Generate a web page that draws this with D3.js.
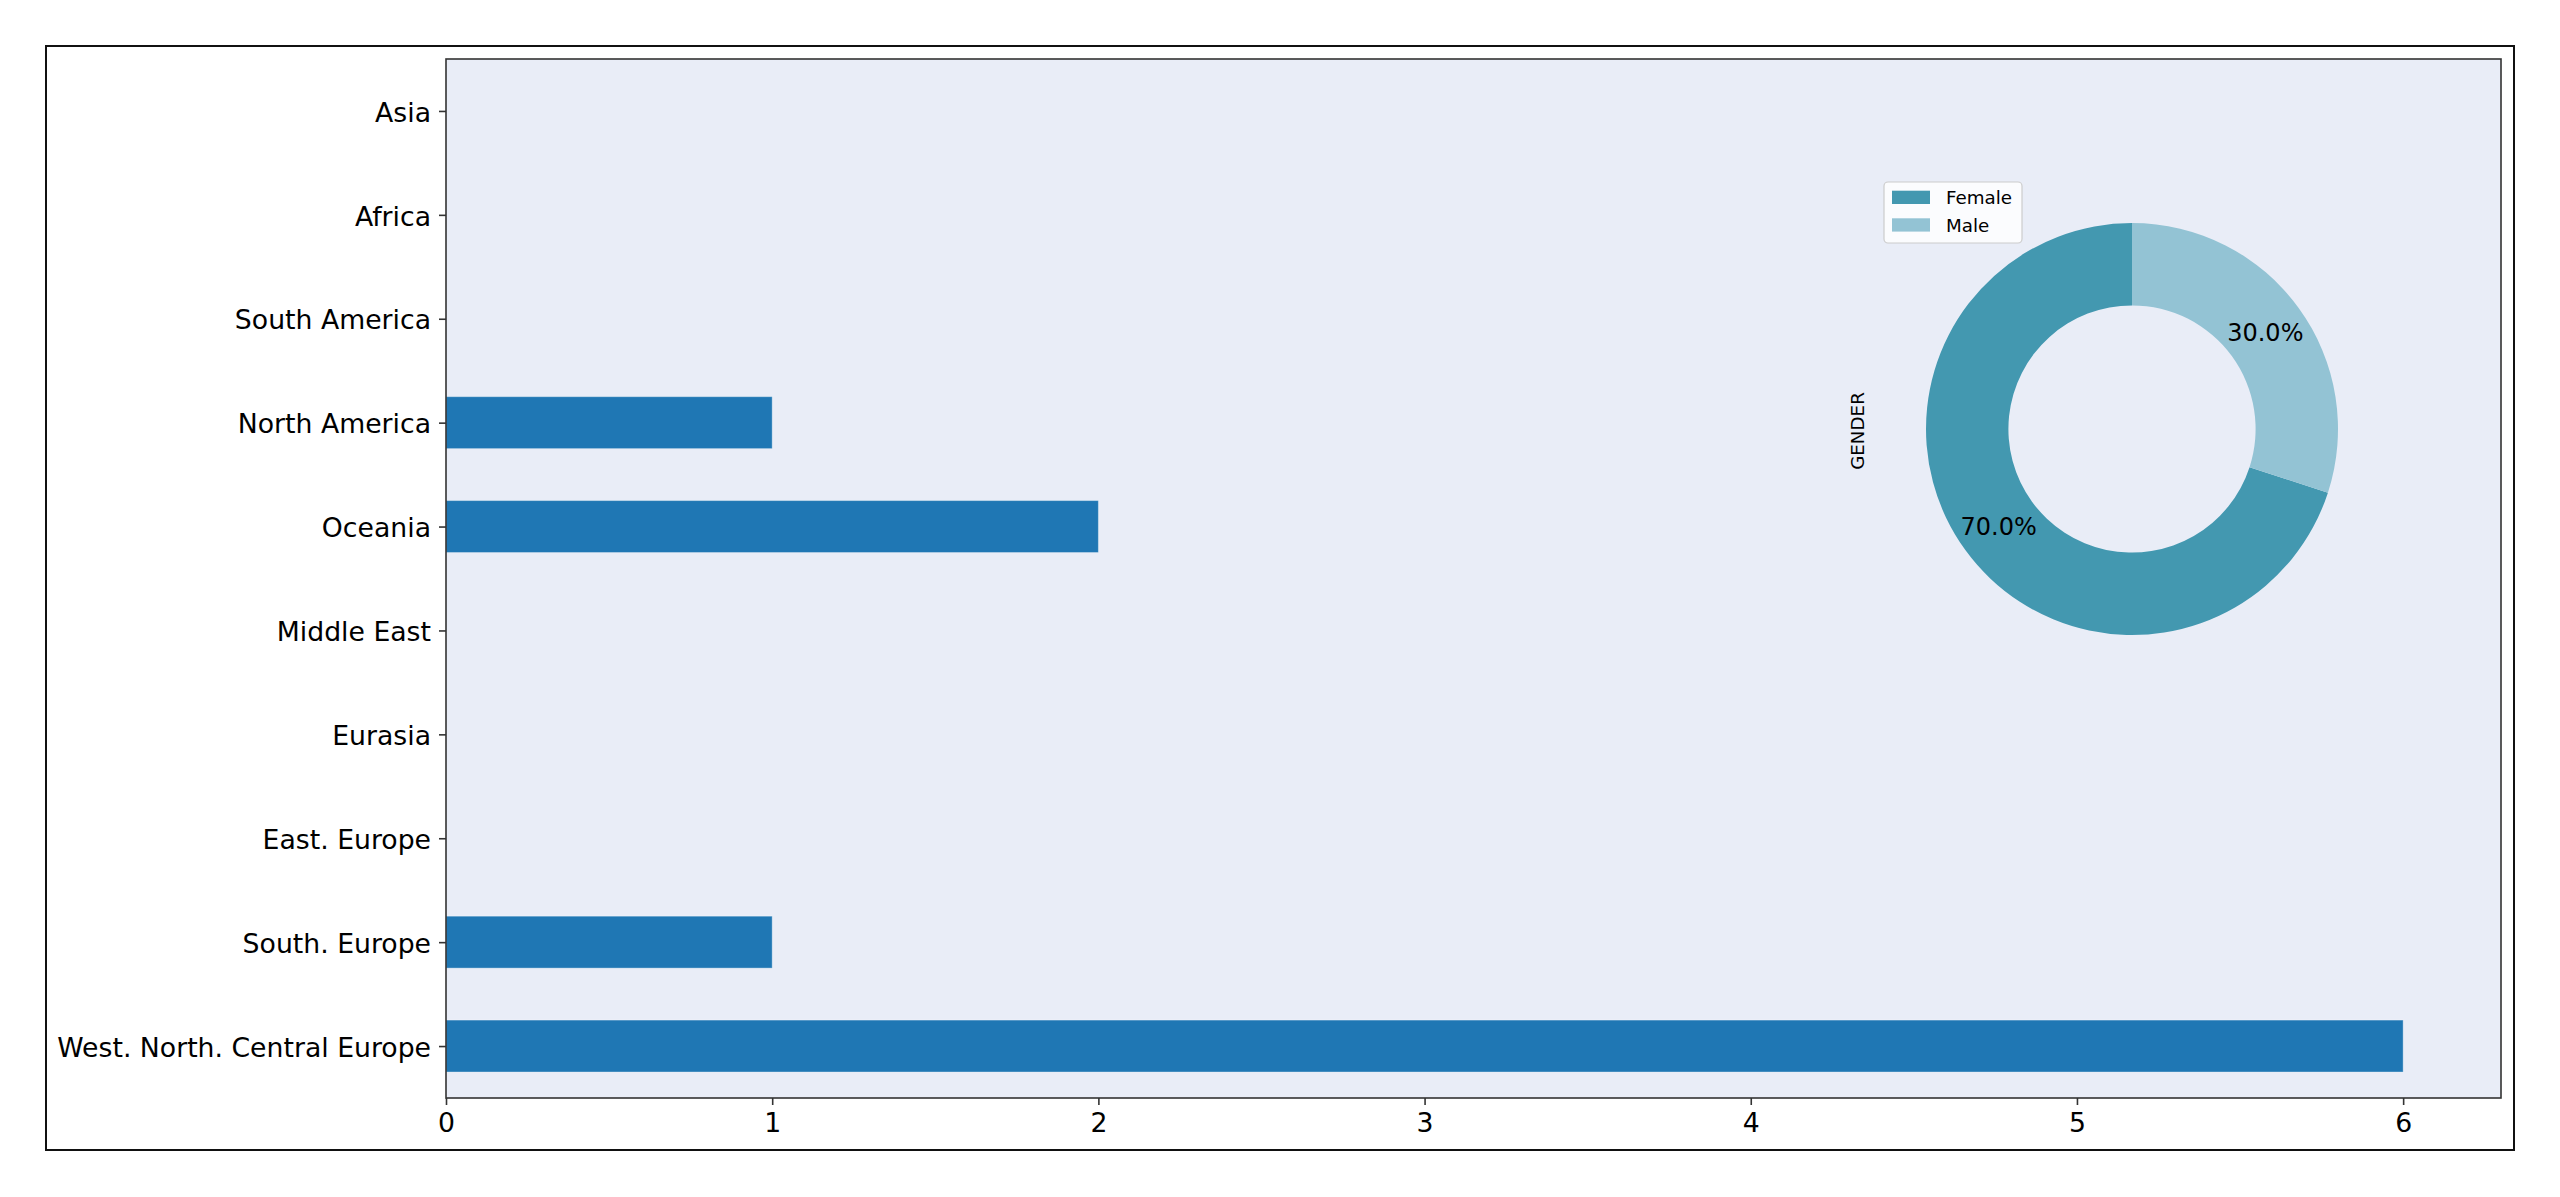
<!DOCTYPE html>
<html>
<head>
<meta charset="utf-8">
<script src="https://cdn.jsdelivr.net/npm/d3@7"></script>
<style>
  html, body { margin: 0; padding: 0; background: #ffffff; }
  svg { display: block; font-family: "DejaVu Sans", sans-serif; }
</style>
</head>
<body>
<svg id="chart" width="2560" height="1197"></svg>
<script>
// ---- data ----
const regions = ["West. North. Central Europe", "South. Europe", "East. Europe", "Eurasia",
  "Middle East", "Oceania", "North America", "South America", "Africa", "Asia"];
const regionCounts = [6, 1, 0, 0, 0, 2, 1, 0, 0, 0];
const xTicks = [0, 1, 2, 3, 4, 5, 6];
const genders = ["Female", "Male"];
const genderCounts = [7, 3];
const genderColors = ["#4398b0", "#93c3d4"];
const pieTitle = "GENDER";

// ---- layout ----
const svg = d3.select("#chart");
const plot = { left: 446, right: 2501, top: 59, bottom: 1098 };

// figure frame
svg.append("rect").attr("x", 46).attr("y", 46).attr("width", 2514 - 46).attr("height", 1150 - 46)
  .attr("fill", "#ffffff").attr("stroke", "#111").attr("stroke-width", 2);

// plot background
svg.append("rect").attr("x", plot.left).attr("y", plot.top)
  .attr("width", plot.right - plot.left).attr("height", plot.bottom - plot.top)
  .attr("fill", "#e9edf7");

const x = d3.scaleLinear().domain([0, 6.3]).range([plot.left, plot.right]);
const y = d3.scaleLinear().domain([-0.5, regions.length - 0.5]).range([plot.bottom, plot.top]);
const barH = Math.abs(y(0.25) - y(-0.25));

// bars
svg.append("g").selectAll("rect").data(regionCounts).join("rect")
  .attr("x", x(0))
  .attr("y", (d, i) => y(i) - barH / 2)
  .attr("width", d => x(d) - x(0))
  .attr("height", barH)
  .attr("fill", "#1f77b4")
  .attr("stroke", d => d > 0 ? "rgba(255,255,255,0.35)" : "none")
  .attr("stroke-width", 1);

// spines
svg.append("rect").attr("x", plot.left).attr("y", plot.top)
  .attr("width", plot.right - plot.left).attr("height", plot.bottom - plot.top)
  .attr("fill", "none").attr("stroke", "#333").attr("stroke-width", 1.6);

// x axis
const xAxis = svg.append("g").attr("transform", `translate(0,${plot.bottom})`)
  .call(d3.axisBottom(x).tickValues(xTicks).tickFormat(d3.format("d")).tickSize(7).tickPadding(8));
xAxis.select(".domain").remove();
xAxis.selectAll(".tick line").attr("stroke", "#333").attr("stroke-width", 1.6);
xAxis.selectAll(".tick text").attr("font-size", "26.7px").attr("fill", "#000")
  .attr("font-family", "DejaVu Sans");

// y axis
const yAxis = svg.append("g").attr("transform", `translate(${plot.left},0)`)
  .call(d3.axisLeft(y).tickValues(d3.range(regions.length)).tickFormat(i => regions[i]).tickSize(7).tickPadding(8));
yAxis.select(".domain").remove();
yAxis.selectAll(".tick line").attr("stroke", "#333").attr("stroke-width", 1.6);
yAxis.selectAll(".tick text").attr("font-size", "26.7px").attr("fill", "#000")
  .attr("dy", "0.38em").attr("font-family", "DejaVu Sans");

// ---- donut ----
const cx = 2132, cy = 429, R = 206, r0 = R * 0.6;
const pie = d3.pie().sort(null).startAngle(0).endAngle(-2 * Math.PI);
const arcs = pie(genderCounts);
const arc = d3.arc().innerRadius(r0).outerRadius(R);
const labelArc = d3.arc().innerRadius(R * 0.8).outerRadius(R * 0.8);
const total = d3.sum(genderCounts);
const pg = svg.append("g").attr("transform", `translate(${cx},${cy})`);
pg.selectAll("path").data(arcs).join("path")
  .attr("d", arc).attr("fill", (d, i) => genderColors[i]);
pg.selectAll("text").data(arcs).join("text")
  .attr("transform", d => `translate(${labelArc.centroid(d)})`)
  .attr("text-anchor", "middle").attr("dy", "0.36em")
  .attr("font-size", "24px").attr("fill", "#000")
  .text(d => (d.value / total * 100).toFixed(1) + "%");

// pie y label
svg.append("text").attr("transform", `translate(1864,431) rotate(-90)`)
  .attr("text-anchor", "middle").attr("font-size", "18.3px").attr("fill", "#000")
  .text(pieTitle);

// legend
const lg = svg.append("g");
lg.append("rect").attr("x", 1884).attr("y", 182).attr("width", 138).attr("height", 61)
  .attr("rx", 4).attr("fill", "rgba(255,255,255,0.8)").attr("stroke", "#cccccc").attr("stroke-width", 1.2);
genders.forEach((g, i) => {
  const yy = 190.7 + i * 27.6;
  lg.append("rect").attr("x", 1892).attr("y", yy).attr("width", 38).attr("height", 13.3)
    .attr("fill", genderColors[i]);
  lg.append("text").attr("x", 1946).attr("y", yy + 13.3).attr("font-size", "18.3px")
    .attr("fill", "#000").text(g);
});
</script>
</body>
</html>
